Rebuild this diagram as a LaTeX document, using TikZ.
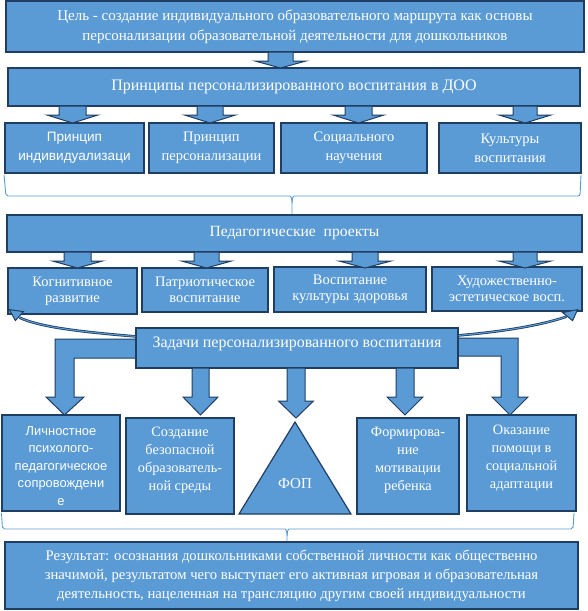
\documentclass[tikz,border=0pt]{standalone}
\usepackage{fontspec}
\setmainfont{Liberation Serif}
\newfontfamily\arialfont{Liberation Sans}
\usetikzlibrary{calc}
\definecolor{boxfill}{HTML}{5B9BD5}
\definecolor{boxline}{HTML}{203E62}
\definecolor{bracecol}{HTML}{5B9BD5}
\tikzset{
  box/.style={draw=boxline, fill=boxfill, line width=1.2pt, inner sep=0pt, text=white, align=center},
  txt/.style={text=white, align=center, inner sep=0pt},
  barrow/.style={draw=boxline, fill=boxfill, line width=1pt, line join=miter},
  carrow/.style={draw=boxline, double=boxfill, double distance=1pt, line width=0.8pt},
  brc/.style={draw=bracecol, line width=0.9pt, rounded corners=2pt},
  big/.style={font=\fontsize{16}{20}\selectfont},
  mid/.style={font=\fontsize{14.5}{19}\selectfont},
  small/.style={font=\fontsize{14.3}{18}\selectfont},
}
% block arrow pointing down: centre x, stem half, head half, top, shoulder, tip
\newcommand\dnarrow[6]{%
  \draw[barrow] (#1-#2,#4) -- (#1+#2,#4) -- (#1+#2,#5) -- (#1+#3,#5) -- (#1,#6)
    -- (#1-#3,#5) -- (#1-#2,#5) -- cycle;}

\begin{document}
\begin{tikzpicture}[x=1pt,y=-1pt]
\useasboundingbox (0,0) rectangle (587,611);

% goal and principles
\node[box, font=\fontsize{15}{20}\selectfont, minimum width=578pt, minimum height=51pt] (goal) at (295,26.5)
  {Цель - создание индивидуального образовательного маршрута как основы\\
   персонализации образовательной деятельности для дошкольников};
\node[box, big, minimum width=572pt, minimum height=38pt] (princ) at (294,87)
  {Принципы персонализированного воспитания в ДОО};

\node[box, minimum width=139pt, minimum height=50pt, font=\arialfont\fontsize{13.6}{19}\selectfont] (p1) at (74.5,148)
  {Принцип\\индивидуализаци};
\node[box, mid, minimum width=125pt, minimum height=50pt] (p2) at (211.5,148) {Принцип\\персонализации};
\node[box, mid, minimum width=146pt, minimum height=50pt] (p3) at (354,148) {Социального\\научения};
\node[box, mid, minimum width=142pt, minimum height=50pt] (p4) at (510,148) {Культуры\\воспитания};

\dnarrow{280.5}{12.5}{25.5}{52}{61}{68}
\dnarrow{72.5}{13.5}{25.5}{106}{115}{123}
\dnarrow{210}{13}{25.5}{106}{115}{123}
\dnarrow{358.5}{13.5}{25.5}{106}{115}{123}
\dnarrow{525}{12}{26}{106}{115}{123}

% brace under principles
\draw[brc] (4,175) -- (6,196) -- (288,196) to[out=0,in=90] (292,203) -- (292,217);
\draw[brc] (581,175) -- (580,196) -- (296,196) to[out=180,in=90] (292,203);

% projects
\node[box, font=\fontsize{15.6}{20}\selectfont, minimum width=575pt, minimum height=37pt] (proj) at (294.5,233.5)
  {Педагогические \ проекты};

\node[box, minimum width=129pt, minimum height=46pt, font=\fontsize{14.5}{16}\selectfont] (q1) at (72.5,291) {Когнитивное\\развитие};
\node[box, minimum width=126pt, minimum height=44pt, font=\fontsize{14.5}{16}\selectfont] (q2) at (205,290) {Патриотическое\\воспитание};
\node[box, minimum width=152pt, minimum height=45pt, font=\fontsize{14.5}{16}\selectfont] (q3) at (350,289.5) {Воспитание\\культуры здоровья};
\node[box, minimum width=150pt, minimum height=44pt, font=\fontsize{14.5}{16}\selectfont] (q4) at (507,289) {Художественно-\\эстетическое восп.};

\dnarrow{77.5}{13.5}{25}{252}{261}{268}
\dnarrow{206.5}{12.5}{25}{252}{261}{268}
\dnarrow{365}{13}{26}{252}{261}{268}
\dnarrow{525}{12}{26}{252}{261}{268}

% tasks
\draw[barrow] (136,339) -- (55,339) -- (55,397) -- (46,397) -- (64.5,415) -- (84,397)
  -- (74,397) -- (74,358) -- (136,358) -- cycle;
\draw[barrow] (458,338) -- (518,338) -- (518,397) -- (528,397) -- (510,415) -- (492,397)
  -- (501,397) -- (501,356) -- (458,356) -- cycle;
\node[box, minimum width=322pt, minimum height=40pt] (tasks) at (297,348) {};
\node[txt, font=\fontsize{16}{20}\selectfont] (taskst) at (297,344)
  {Задачи персонализированного воспитания};

\coordinate (tipL) at ($(q1.south west)+(2,-5)$);
\coordinate (tipR) at ($(q4.south east)+(-5,-2)$);
\draw[carrow] ($(tasks.north west)+(0,9)$) .. controls (70,331) and (38,326) .. ($(tipL)+(10,8)$);
\draw[barrow] (tipL) -- ($(tipL)+(14,2)$) -- ($(tipL)+(6,11)$) -- cycle;
\draw[carrow] ($(tasks.north east)+(0,8)$) .. controls (510,331) and (545,324) .. ($(tipR)+(-11,7)$);
\draw[barrow] (tipR) -- ($(tipR)+(-15,3)$) -- ($(tipR)+(-5,11)$) -- cycle;

\dnarrow{200.5}{8.5}{17.5}{368}{397}{415}
\dnarrow{296}{9}{17.5}{368}{401}{418}
\dnarrow{405}{9}{18}{368}{397}{415}

% bottom row
\node[box, minimum width=118pt, minimum height=96pt] (tA) at (61,463) {};
\node[txt, font=\arialfont\fontsize{12.9}{17.5}\selectfont] (tAt) at (61,466)
  {Личностное\\психолого-\\педагогическое\\сопровождени\\е};
\node[box, minimum width=108pt, minimum height=96pt] (tB) at (180,466) {};
\node[txt, small] (tBt) at (180,460) {Создание\\безопасной\\образователь-\\ной среды};
\draw[barrow, line width=1.2pt] (295,422) -- (351,514) -- (239,514) -- cycle;
\node[txt, font=\fontsize{15}{18}\selectfont] (fop) at (295,484) {ФОП};
\node[box, minimum width=102pt, minimum height=96pt] (tD) at (408,466) {};
\node[txt, small] (tDt) at (408,460) {Формирова-\\ние\\мотивации\\ребенка};
\node[box, minimum width=109pt, minimum height=96pt] (tE) at (521.5,463) {};
\node[txt, small] (tEt) at (521.5,458) {Оказание\\помощи в\\социальной\\адаптации};

% brace under tasks
\draw[brc] (1.5,513) -- (2.5,529) -- (283,529) to[out=0,in=90] (287,536) -- (287,546);
\draw[brc] (574,513) -- (573,529) -- (291,529) to[out=180,in=90] (287,536);

% result
\node[box, font=\fontsize{14.7}{19}\selectfont, minimum width=573pt, minimum height=67pt] (res) at (291.5,575.5)
  {Результат: осознания дошкольниками собственной личности как общественно\\
   значимой, результатом чего выступает его активная игровая и образовательная\\
   деятельность, нацеленная на трансляцию другим своей индивидуальности};
\end{tikzpicture}
\end{document}
